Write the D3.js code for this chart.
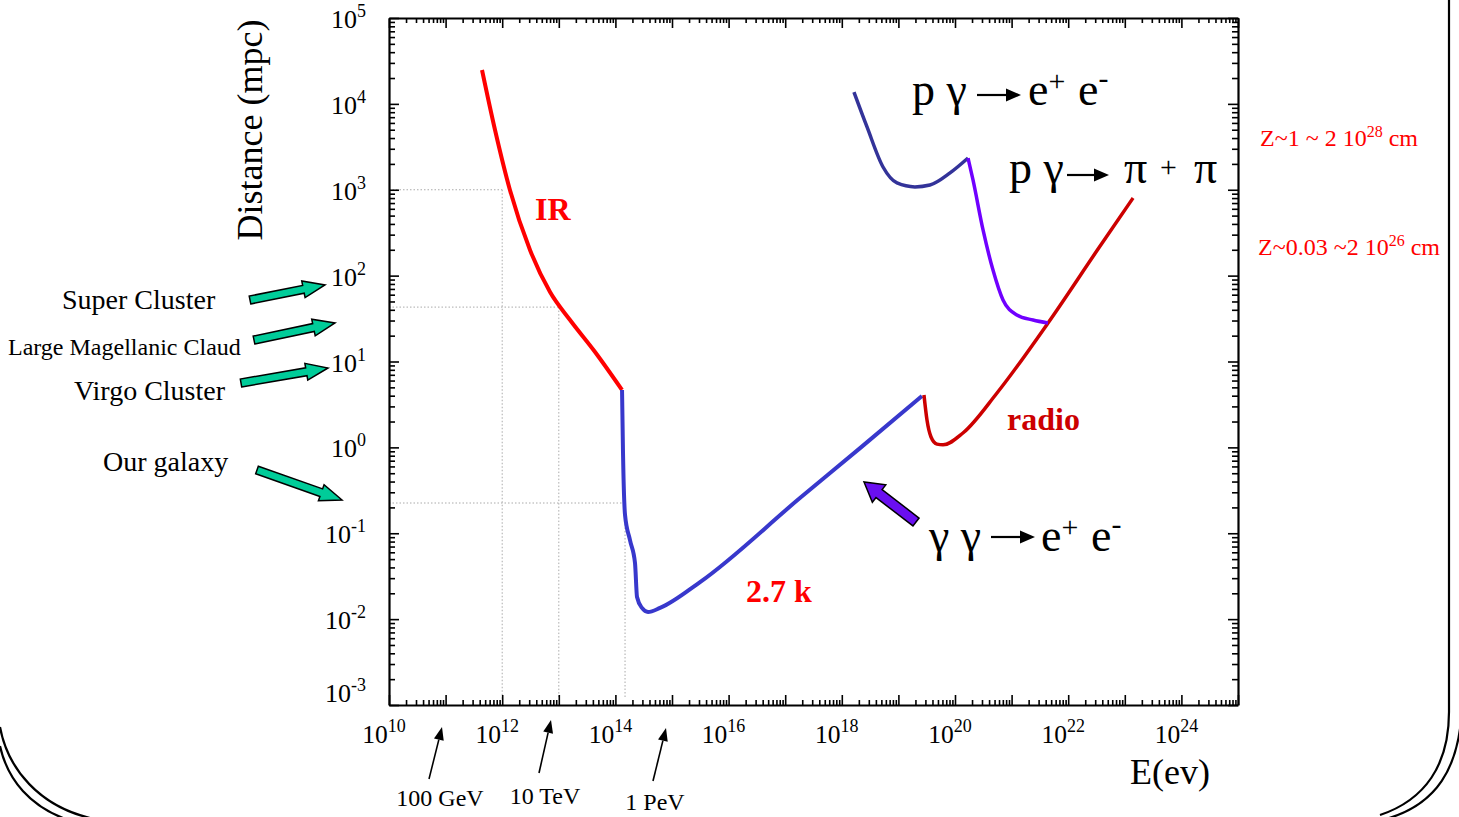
<!DOCTYPE html>
<html>
<head>
<meta charset="utf-8">
<script src="https://cdn.jsdelivr.net/npm/d3@7"></script>
<style>
  html, body { margin: 0; padding: 0; background: #fff; }
  svg { display: block; }
  text { font-family: "Liberation Serif", "Times New Roman", serif; }
</style>
</head>
<body>
<svg id="chart" width="1459" height="817"></svg>
<script>
// ---- data: energy (eV) vs. attenuation distance (Mpc) ----
const irEnergy     = [4.4e11, 7.47e11, 1.37e12, 3.1e12, 7.0e12, 1.58e13, 4.37e13, 1.31e14];
const irDistance   = [24800, 4960, 993, 199, 64.4, 30.4, 12.9, 4.66];

const cmbEnergy    = [1.31e14, 1.36e14, 1.48e14, 1.81e14, 2.22e14, 2.41e14, 2.95e14, 3.77e14, 6.14e14, 3.13e15, 1.82e17, 2.1e18, 2.61e19];
const cmbDistance  = [4.66, 0.93, 0.163, 0.083, 0.045, 0.0181, 0.0135, 0.0121, 0.0135, 0.027, 0.257, 0.98, 3.96];

const radioEnergy   = [2.83e19, 3.2e19, 3.77e19, 4.81e19, 6.14e19, 1.38e20, 5.52e20, 4.4e21, 3.37e22, 1.4e23];
const radioDistance = [4.07, 2.08, 1.32, 1.09, 1.07, 1.47, 4.3, 28.1, 204, 802];

const pairEnergy    = [1.64e18, 2.79e18, 5.35e18, 9.44e18, 1.96e19, 3.61e19, 8.17e19, 1.7e20];
const pairDistance  = [13700, 5380, 1840, 1200, 1080, 1135, 1570, 2340];

const pionEnergy    = [1.7e20, 2.08e20, 3.13e20, 4.69e20, 7.05e20, 1.24e21, 2.39e21, 4.4e21];
const pionDistance  = [2340, 1300, 340, 116, 52, 34.8, 30.4, 28.1];

const xExponents = [10, 12, 14, 16, 18, 20, 22, 24];
const yExponents = [5, 4, 3, 2, 1, 0, -1, -2, -3];

const distanceMarks = ["Super Cluster", "Large Magellanic Claud", "Virgo Cluster", "Our galaxy"];
const energyMarks   = ["100 GeV", "10 TeV", "1 PeV"];

// ---- scales ----
const svg = d3.select("#chart");
const x = d3.scaleLog().domain([1e10, 1e25]).range([389, 1238]);
const y = d3.scaleLog().domain([1e-3, 1e5]).range([705, 18]);
const [x0, x1] = x.range();
const [y0, y1] = y.range();

// ---- slide border ----
const border = svg.append("g").attr("fill", "none").attr("stroke", "#000").attr("stroke-width", 2.2);
border.append("path").attr("d", "M1449,0 L1449,712 C1449,765 1425,800 1380,815");
border.append("path").attr("d", "M1462,705 C1460,770 1435,805 1386,819");
border.append("path").attr("d", "M0,727 C8,770 40,806 90,818");
border.append("path").attr("d", "M0,746 C8,782 32,806 63,818");

// ---- dotted guide lines ----
const guides = [[1e12, 1e3], [1e13, 43], [1.48e14, 0.225]];
const guideG = svg.append("g").attr("stroke", "#aaa").attr("stroke-width", 1)
  .attr("stroke-dasharray", "1.5,2").attr("fill", "none");
guides.forEach(([ge, gd]) => {
  guideG.append("line").attr("x1", x0).attr("x2", x(ge)).attr("y1", y(gd)).attr("y2", y(gd));
  guideG.append("line").attr("x1", x(ge)).attr("x2", x(ge)).attr("y1", y(gd)).attr("y2", y0 - 6);
});

// ---- axes with inward log ticks ----
const xMajor = d3.range(10, 26).map(e => Math.pow(10, e));
const xMinor = [];
d3.range(10, 25).forEach(e => { for (let m = 2; m <= 9; m++) xMinor.push(m * Math.pow(10, e)); });
const yMajor = d3.range(-3, 6).map(e => Math.pow(10, e));
const yMinor = [];
d3.range(-3, 5).forEach(e => { for (let m = 2; m <= 9; m++) yMinor.push(m * Math.pow(10, e)); });

function addAxis(gen, scale, ticks, size, tr, domain) {
  const g = svg.append("g").attr("transform", tr)
    .call(gen(scale).tickValues(ticks).tickSize(size).tickSizeOuter(0).tickFormat(""));
  g.selectAll(".tick line").attr("stroke", "#000").attr("stroke-width", 1.6);
  g.select(".domain").attr("stroke", domain ? "#000" : "none").attr("stroke-width", 2.2);
  return g;
}
[[d3.axisBottom, `translate(0,${y0})`], [d3.axisTop, `translate(0,${y1})`]].forEach(([gen, tr]) => {
  addAxis(gen, x, xMinor, -5, tr, false);
  addAxis(gen, x, xMajor, -10, tr, true);
});
[[d3.axisLeft, `translate(${x0},0)`], [d3.axisRight, `translate(${x1},0)`]].forEach(([gen, tr]) => {
  addAxis(gen, y, yMinor, -6, tr, false);
  addAxis(gen, y, yMajor, -10, tr, true);
});

// ---- tick labels with superscript exponents ----
function powerLabel(sel, exp, base, sup) {
  sel.append("tspan").attr("font-size", base).text("10");
  sel.append("tspan").attr("font-size", sup).attr("dy", -base * 0.42).text(String(exp));
}
xExponents.forEach(e => {
  const t = svg.append("text").attr("x", x(Math.pow(10, e)) - 5).attr("y", 743)
    .attr("text-anchor", "middle").attr("fill", "#000");
  powerLabel(t, e, 25.5, 18);
});
yExponents.forEach(e => {
  const yy = y(Math.pow(10, e)) + (e === -3 ? -3 : 10);
  const t = svg.append("text").attr("x", 366).attr("y", yy)
    .attr("text-anchor", "end").attr("fill", "#000");
  powerLabel(t, e, 26, 18);
});

// ---- axis titles ----
svg.append("text").attr("transform", "translate(262,130) rotate(-90)")
  .attr("text-anchor", "middle").attr("font-size", 36).text("Distance (mpc)");
svg.append("text").attr("x", 1130).attr("y", 784).attr("font-size", 36).text("E(ev)");

// ---- curves ----
const line = d3.line().x(d => x(d[0])).y(d => y(d[1])).curve(d3.curveMonotoneX);
const series = [
  [irEnergy, irDistance, "#ff0000", 4],
  [cmbEnergy, cmbDistance, "#3838cc", 4],
  [radioEnergy, radioDistance, "#cc0000", 3.5],
  [pairEnergy, pairDistance, "#333399", 3.5],
  [pionEnergy, pionDistance, "#7000ff", 3.5]
];
series.forEach(([ex, dist, color, w]) => {
  svg.append("path").datum(d3.zip(ex, dist)).attr("d", line)
    .attr("fill", "none").attr("stroke", color).attr("stroke-width", w)
    .attr("stroke-linejoin", "round");
});

// ---- curve labels ----
const bold = (tx, ty, s, size, color) => svg.append("text").attr("x", tx).attr("y", ty)
  .attr("font-size", size).attr("font-weight", "bold").attr("fill", color).text(s);
bold(535, 220, "IR", 32, "#ff0000");
bold(746, 602, "2.7 k", 32, "#ff0000");
bold(1007, 430, "radio", 32, "#cc0000");

// ---- reaction labels ----
function thinArrow(ax1, ay, ax2, w, hl, hw) {
  svg.append("line").attr("x1", ax1).attr("x2", ax2 - hl + 1).attr("y1", ay).attr("y2", ay)
    .attr("stroke", "#000").attr("stroke-width", w);
  svg.append("path").attr("d", `M${ax2},${ay} L${ax2 - hl},${ay - hw / 2} L${ax2 - hl},${ay + hw / 2} Z`)
    .attr("fill", "#000");
}
// base text with an optional raised charge sign
function particle(tx, ty, base, charge, size, lift) {
  const t = svg.append("text").attr("x", tx).attr("y", ty).attr("font-size", size).attr("fill", "#000");
  if (base) t.append("tspan").text(base);
  if (charge) t.append("tspan").attr("font-size", size * 0.65).attr("dy", -size * lift).text(charge);
  return t;
}
// p γ → e+ e-
particle(912, 105, "p γ", null, 46);
thinArrow(977, 95, 1021, 2.2, 15, 13);
particle(1028, 105, "e", "+", 46, 0.3);
particle(1078, 105, "e", "-", 46, 0.38);
// p γ → π + π
particle(1009, 183, "p γ", null, 46);
thinArrow(1067, 175, 1109, 2.2, 15, 13);
particle(1124, 183, "π", null, 46);
particle(1160, 183, null, "+", 46, 0.12);
particle(1194, 183, "π", null, 46);
// γ γ → e+ e-
particle(929, 551, "γ γ", null, 46);
thinArrow(991, 537, 1035, 2.2, 15, 13);
particle(1041, 551, "e", "+", 46, 0.3);
particle(1091, 551, "e", "-", 46, 0.38);

// ---- redshift notes ----
function zNote(tx, ty, pre, exp) {
  const t = svg.append("text").attr("x", tx).attr("y", ty).attr("font-size", 24).attr("fill", "#ff0000");
  t.append("tspan").text(pre);
  t.append("tspan").attr("font-size", 16).attr("dy", -9).text(exp);
  t.append("tspan").attr("dy", 9).text(" cm");
}
zNote(1260, 146, "Z~1 ~ 2 10", "28");
zNote(1258, 255, "Z~0.03 ~2 10", "26");

// ---- block arrows ----
function blockArrow(ax, ay, bx, by, sw, hw, hl, fill) {
  const dx = bx - ax, dy = by - ay, L = Math.hypot(dx, dy);
  const ux = dx / L, uy = dy / L, nx = -uy, ny = ux;
  const cx = bx - ux * hl, cy = by - uy * hl;
  const pts = [
    [ax + nx * sw / 2, ay + ny * sw / 2], [cx + nx * sw / 2, cy + ny * sw / 2],
    [cx + nx * hw / 2, cy + ny * hw / 2], [bx, by],
    [cx - nx * hw / 2, cy - ny * hw / 2], [cx - nx * sw / 2, cy - ny * sw / 2],
    [ax - nx * sw / 2, ay - ny * sw / 2]
  ];
  svg.append("path").attr("d", "M" + pts.map(p => p.join(",")).join("L") + "Z")
    .attr("fill", fill).attr("stroke", "#000").attr("stroke-width", 1.5).attr("stroke-linejoin", "miter");
}
blockArrow(916, 522, 864, 482, 10, 22, 19, "#6a0ff0");

// ---- distance scale markers on the left ----
const markPos = [
  { tx: 62, ty: 309, size: 28, a: [250, 300, 325, 285] },
  { tx: 8, ty: 355, size: 24, a: [254, 340, 335, 323] },
  { tx: 74, ty: 400, size: 28, a: [241, 383, 328, 368] },
  { tx: 103, ty: 471, size: 28, a: [257, 470, 342, 500] }
];
distanceMarks.forEach((s, i) => {
  const m = markPos[i];
  svg.append("text").attr("x", m.tx).attr("y", m.ty).attr("font-size", m.size).text(s);
  blockArrow(m.a[0], m.a[1], m.a[2], m.a[3], 8, 17, 22, "#00cc99");
});

// ---- energy markers under the axis ----
const energyPos = [
  { tx: 440, ty: 806, a: [429, 779, 442, 727] },
  { tx: 545, ty: 804, a: [539, 773, 551, 720] },
  { tx: 655, ty: 810, a: [653, 781, 666, 728] }
];
energyMarks.forEach((s, i) => {
  const m = energyPos[i];
  svg.append("text").attr("x", m.tx).attr("y", m.ty).attr("font-size", 24)
    .attr("text-anchor", "middle").text(s);
  const [ax, ay, bx, by] = m.a;
  const L = Math.hypot(bx - ax, by - ay), ux = (bx - ax) / L, uy = (by - ay) / L;
  const hl = 13, hw = 10, cx = bx - ux * hl, cy = by - uy * hl;
  svg.append("line").attr("x1", ax).attr("y1", ay).attr("x2", cx).attr("y2", cy)
    .attr("stroke", "#000").attr("stroke-width", 1.6);
  svg.append("path").attr("d", `M${bx},${by} L${cx - uy * hw / 2},${cy + ux * hw / 2} L${cx + uy * hw / 2},${cy - ux * hw / 2} Z`)
    .attr("fill", "#000");
});
</script>
</body>
</html>
